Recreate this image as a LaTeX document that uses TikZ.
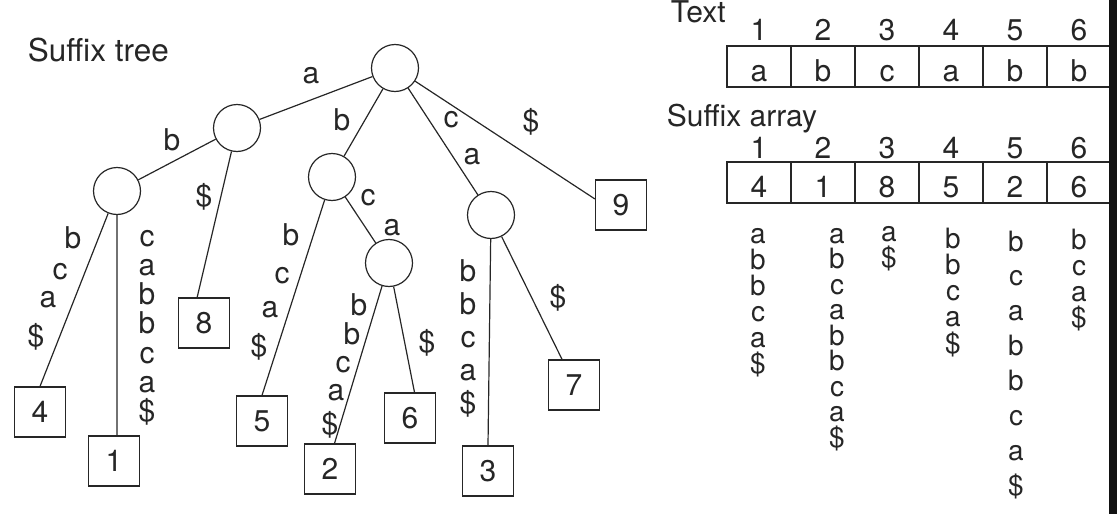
\documentclass[tikz,border=0pt]{standalone}
\usepackage{fontspec}
\setmainfont{TeX Gyre Heros}
\tikzset{
  inner/.style={circle,draw,minimum size=47pt,inner sep=0pt},
  leaf/.style={rectangle,draw,minimum width=51pt,minimum height=50pt,inner sep=0pt},
  lbl/.style={inner sep=0pt},
  cell/.style={rectangle,draw,minimum width=64pt,minimum height=41pt,inner sep=0pt,text height=30pt,text depth=0pt},
}
\begin{document}
\begin{tikzpicture}[x=1pt,y=-1pt,line width=1.2pt,color=black!85,font=\fontsize{30}{30}\selectfont]
  \useasboundingbox (0,0) rectangle (1117,514);
  % suffix tree
  \node[anchor=base west,font=\fontsize{31.5}{32}\selectfont] (ttl) at (24,61) {Suffix tree};
  \node[inner] (root) at (395,68) {};
  \node[inner] (na) at (237,128) {};
  \node[inner] (nab) at (117,191) {};
  \node[inner] (nb) at (332,177) {};
  \node[inner] (nbca) at (389,263) {};
  \node[inner] (nca) at (491,215) {};
  \node[leaf] (l1) at (114,461) {1};
  \node[leaf] (l2) at (330,469) {2};
  \node[leaf] (l3) at (488,471) {3};
  \node[leaf] (l4) at (40,412) {4};
  \node[leaf] (l5) at (262,421) {5};
  \node[leaf] (l6) at (410,418) {6};
  \node[leaf] (l7) at (574,385) {7};
  \node[leaf] (l8) at (204,323) {8};
  \node[leaf] (l9) at (621,205) {9};
  \draw
    (root) -- (na) (root) -- (nb) (root) -- (nca) (root) -- (l9.167)
    (na) -- (nab) (na) -- (l8.105)
    (nab) -- (l4.north) (nab.south) -- (nab.south |- l1.north)
    (nb) -- (l5.north) (nb) -- (nbca)
    (nbca) -- (l2.80) (nbca) -- (l6.80)
    (nca) -- (l3.north) (nca) -- (l7.115);
  % edge labels
  \foreach \ch/\x/\y [count=\i] in {a/311/76, b/172/140, \$/204/197, b/342/120, c/368/198, a/392/228,
      c/451/120, a/472/157, \$/531/122, \$/427/343, \$/558/298}
    \node[lbl] (e\i) at (\x,\y) {\ch};
  \foreach \ch/\x/\y [count=\i] in {b/73/238, c/60/272, a/48/300, \$/36/337,
      b/291/235, c/282/276, a/270/310, \$/259/347,
      b/359/305, b/352/334, c/343/365, a/336/393, \$/330/425}
    \node[lbl] (s\i) at (\x,\y) {\ch};
  % vertical stacks in the tree
  \foreach \x/\y/\d/\word [count=\c] in {147/246/29.3/{c,a,b,b,c,a,\$}, 468/281/33/{b,b,c,a,\$}}
    \foreach \ch [count=\k] in \word
      \node[lbl,anchor=base] (v\c-\k) at (\x,{\y+(\k-1)*\d}) {\ch};
  % suffixes under the array
  \foreach \x/\y/\d/\word [count=\c] in {758/243/26/{a,b,b,c,a,\$}, 837/243/25.5/{a,b,c,a,b,b,c,a,\$},
      889/241/26/{a,\$}, 953/248/26.25/{b,b,c,a,\$}, 1016/251/34.9/{b,c,a,b,b,c,a,\$},
      1079/249/26.3/{b,c,a,\$}}
    \foreach \ch [count=\k] in \word
      \node[lbl,anchor=base,font=\fontsize{28}{28}\selectfont] (w\c-\k) at (\x,{\y+(\k-1)*\d}) {\ch};
  % text
  \node[anchor=base west] (txt) at (667,22) {Text};
  \foreach \ch [count=\i] in {a,b,c,a,b,b} {
    \node[anchor=base] (ti\i) at ({695+64*\i},40) {\i};
    \node[cell] (t\i) at ({695+64*\i},66.5) {\ch};
  }
  % suffix array
  \node[anchor=base west] (salbl) at (663,126) {Suffix array};
  \foreach \v [count=\i] in {4,1,8,5,2,6} {
    \node[anchor=base] (si\i) at ({695+64*\i},158) {\i};
    \node[cell] (sa\i) at ({695+64*\i},182.5) {\v};
  }
  \fill[black!93] (1109,0) rectangle (1117,514);
\end{tikzpicture}
\end{document}
